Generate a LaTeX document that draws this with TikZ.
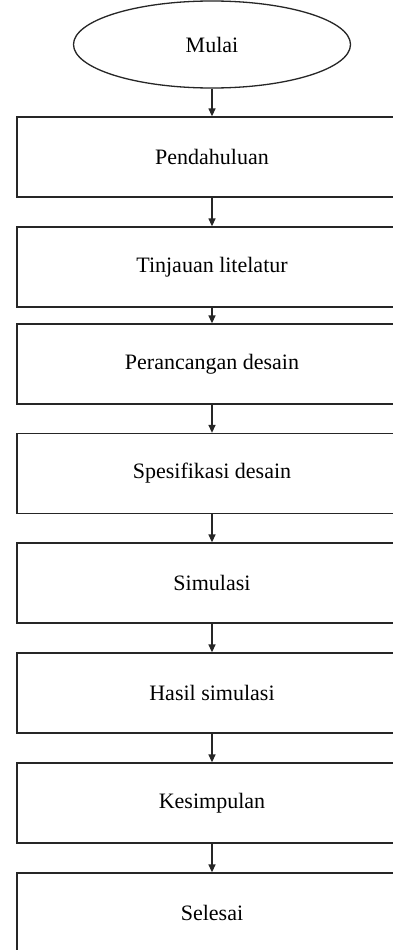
\documentclass[tikz,border=0pt]{standalone}
\usepackage{fontspec}
\setmainfont{Liberation Serif}
\usetikzlibrary{arrows.meta,shapes.geometric}
\begin{document}
\begin{tikzpicture}[x=1pt,y=-1pt,
  txt/.style={font=\fontsize{22}{26}\selectfont},
  stepbox/.style={txt, draw=black!85, line width=1.3pt, minimum width=390pt, minimum height=80pt, inner sep=0pt},
  startell/.style={txt, ellipse, draw=black!85, line width=1.3pt, minimum width=277pt, minimum height=87pt, inner sep=0pt},
  arr/.style={draw=black!85, line width=1.3pt, -{Triangle[length=8pt,width=7pt]}}
]
\useasboundingbox[fill=white] (0,0) rectangle (393,950);
\node[startell] (s) at (212,44.5) {Mulai};
\node[stepbox] (b1) at (212,157) {Pendahuluan};
\node[stepbox] (b2) at (212,267) {Tinjauan litelatur};
\node[stepbox] (b3) at (212,364) {Perancangan desain};
\node[stepbox] (b4) at (212,473.5) {Spesifikasi desain};
\node[stepbox] (b5) at (212,583) {Simulasi};
\node[stepbox] (b6) at (212,693) {Hasil simulasi};
\node[stepbox] (b7) at (212,803) {Kesimpulan};
\node[stepbox] (b8) at (212,913) {Selesai};
\draw[arr] (s.south) -- (b1.north);
\draw[arr] (b1.south) -- (b2.north);
\draw[arr] (b2.south) -- (b3.north);
\draw[arr] (b3.south) -- (b4.north);
\draw[arr] (b4.south) -- (b5.north);
\draw[arr] (b5.south) -- (b6.north);
\draw[arr] (b6.south) -- (b7.north);
\draw[arr] (b7.south) -- (b8.north);
\end{tikzpicture}
\end{document}
